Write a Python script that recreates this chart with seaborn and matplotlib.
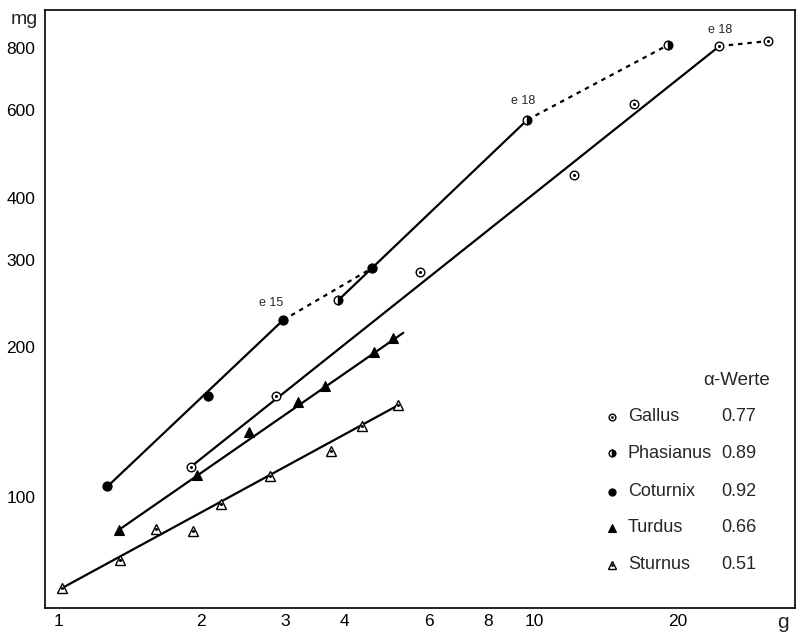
import matplotlib
matplotlib.use("Agg")
import matplotlib.pyplot as plt
from matplotlib import font_manager
from matplotlib.ticker import NullLocator
import seaborn as sns
import pandas as pd

# ---------------- data ----------------
species = ["Gallus", "Phasianus", "Coturnix", "Turdus", "Sturnus"]
alpha_values = ["0.77", "0.89", "0.92", "0.66", "0.51"]

gallus_x = [1.90, 2.87, 5.76, 12.1, 16.2, 24.5, 31.0]
gallus_y = [115, 160, 284, 445, 618, 808, 827]
phasianus_x = [3.88, 9.67, 19.1]
phasianus_y = [249, 574, 812]
coturnix_x = [1.27, 2.07, 2.97, 4.57]
coturnix_y = [105, 160, 227, 289]
turdus_x = [1.34, 1.96, 2.52, 3.19, 3.64, 4.61, 5.06]
turdus_y = [85.8, 111, 135, 155, 167, 196, 209]
sturnus_x = [1.02, 1.35, 1.61, 1.92, 2.20, 2.79, 3.75, 4.35, 5.18]
sturnus_y = [65.6, 74.7, 86.2, 85.4, 96.8, 110, 124, 139, 153]

# solid regression lines
gallus_fit_x, gallus_fit_y = [1.90, 24.5], [115, 808]
phasianus_fit_x, phasianus_fit_y = [3.88, 9.67], [249, 574]
coturnix_fit_x, coturnix_fit_y = [1.27, 2.97], [105, 227]
turdus_fit_x, turdus_fit_y = [1.34, 5.31], [85.8, 214]
sturnus_fit_x, sturnus_fit_y = [1.02, 5.18], [65.6, 153]

# dashed continuations
gallus_ext_x, gallus_ext_y = [24.5, 31.0], [808, 827]
phasianus_ext_x, phasianus_ext_y = [9.67, 19.1], [574, 812]
coturnix_ext_x, coturnix_ext_y = [2.97, 4.57], [227, 289]

# stage labels
stage_labels = ["e 15", "e 18", "e 18"]
stage_x = [2.97, 9.67, 24.5]
stage_y = [227, 574, 808]

x_ticks = [1, 2, 3, 4, 6, 8, 10, 20]
x_ticklabels = ["1", "2", "3", "4", "6", "8", "10", "20"]
y_ticks = [100, 200, 300, 400, 600, 800]
y_ticklabels = ["100", "200", "300", "400", "600", "800"]

# ---------------- style ----------------
sns.set_style("white")
available = {f.name for f in font_manager.fontManager.ttflist}
family = next((f for f in ["Liberation Sans Narrow", "Liberation Sans", "DejaVu Sans"]
               if f in available), "DejaVu Sans")
plt.rcParams["font.family"] = [family, "DejaVu Sans"]

fig = plt.figure(figsize=(7.98, 6.35), dpi=100)
ax = fig.add_axes([45 / 798, 1 - 608 / 635, 750 / 798, 598 / 635])
ax.set_xscale("log")
ax.set_yscale("log")

LW = 1.6
dash = (0, (2.0, 2.2))

# lines
for fx, fy in [(gallus_fit_x, gallus_fit_y), (phasianus_fit_x, phasianus_fit_y),
               (coturnix_fit_x, coturnix_fit_y), (turdus_fit_x, turdus_fit_y),
               (sturnus_fit_x, sturnus_fit_y)]:
    sns.lineplot(x=fx, y=fy, ax=ax, color="black", lw=LW, estimator=None, sort=False)
for fx, fy in [(gallus_ext_x, gallus_ext_y), (phasianus_ext_x, phasianus_ext_y),
               (coturnix_ext_x, coturnix_ext_y)]:
    sns.lineplot(x=fx, y=fy, ax=ax, color="black", lw=LW, linestyle=dash,
                 estimator=None, sort=False)

# marker styles
styles = {
    "Gallus": dict(marker="o", markersize=6.2, markerfacecolor="white",
                   markeredgecolor="black", markeredgewidth=1.0),
    "Phasianus": dict(marker="o", markersize=6.2, fillstyle="right",
                      markerfacecolor="black", markerfacecoloralt="white",
                      markeredgecolor="black", markeredgewidth=1.0),
    "Coturnix": dict(marker="o", markersize=6.6, markerfacecolor="black",
                     markeredgecolor="black", markeredgewidth=0.8),
    "Turdus": dict(marker="^", markersize=6.8, markerfacecolor="black",
                   markeredgecolor="black", markeredgewidth=0.8),
    "Sturnus": dict(marker="^", markersize=6.8, markerfacecolor="white",
                    markeredgecolor="black", markeredgewidth=1.0),
}
dotted = {"Gallus", "Sturnus"}
series = {"Gallus": (gallus_x, gallus_y), "Phasianus": (phasianus_x, phasianus_y),
          "Coturnix": (coturnix_x, coturnix_y), "Turdus": (turdus_x, turdus_y),
          "Sturnus": (sturnus_x, sturnus_y)}

for name in species:
    xs, ys = series[name]
    df = pd.DataFrame({"x": xs, "y": ys})
    sns.lineplot(data=df, x="x", y="y", ax=ax, linestyle="", estimator=None,
                 sort=False, zorder=5, **styles[name])
    if name in dotted:
        sns.lineplot(data=df, x="x", y="y", ax=ax, linestyle="", estimator=None,
                     sort=False, zorder=6, marker="o", markersize=1.4,
                     markerfacecolor="black", markeredgecolor="black")

# stage annotations
offsets = [(-8.5, 12.5), (-3, 13.5), (0.8, 11.5)]
for lab, sx, sy, off in zip(stage_labels, stage_x, stage_y, offsets):
    ax.annotate(lab, xy=(sx, sy), xytext=off, textcoords="offset points",
                ha="center", va="center", fontsize=9)

# axes limits / ticks
ax.set_xlim(0.939, 35.3)
ax.set_ylim(59.8, 955)
ax.set_xticks(x_ticks)
ax.set_xticklabels(x_ticklabels)
ax.set_yticks(y_ticks)
ax.set_yticklabels(y_ticklabels)
ax.xaxis.set_minor_locator(NullLocator())
ax.yaxis.set_minor_locator(NullLocator())
ax.tick_params(axis="both", which="major", direction="in", length=17, width=0.9,
               colors="black", labelsize=12.5)
ax.tick_params(axis="x", pad=4)
ax.tick_params(axis="y", pad=7)
ax.set_xlabel("")
ax.set_ylabel("")
for sp in ax.spines.values():
    sp.set_visible(True)
    sp.set_color("black")
    sp.set_linewidth(1.2)

fig.text(24 / 798, 1 - 19 / 635, "mg", ha="center", va="center", fontsize=14)
fig.text(783 / 798, 1 - 622 / 635, "g", ha="center", va="center", fontsize=15)

# legend (manual)
LEG_FS = 13
ax.text(0.967, 0.381, "\u03b1-Werte", transform=ax.transAxes, ha="right",
        va="center", fontsize=LEG_FS + 0.5)
row_y = [0.3194, 0.259, 0.194, 0.134, 0.072]
leg_styles = {k: dict(v) for k, v in styles.items()}
for name, val, ry in zip(species, alpha_values, row_y):
    st = leg_styles[name]
    st["markersize"] = st["markersize"] * 0.78
    ax.plot([0.756], [ry], transform=ax.transAxes, linestyle="", clip_on=False, **st)
    if name in dotted:
        ax.plot([0.756], [ry], transform=ax.transAxes, linestyle="", marker="o",
                markersize=1.0, color="black")
    ax.text(0.777, ry, name, transform=ax.transAxes, ha="left", va="center",
            fontsize=LEG_FS)
    ax.text(0.901, ry, val, transform=ax.transAxes, ha="left", va="center",
            fontsize=LEG_FS)

fig.savefig("out.png", dpi=100, facecolor="white")
